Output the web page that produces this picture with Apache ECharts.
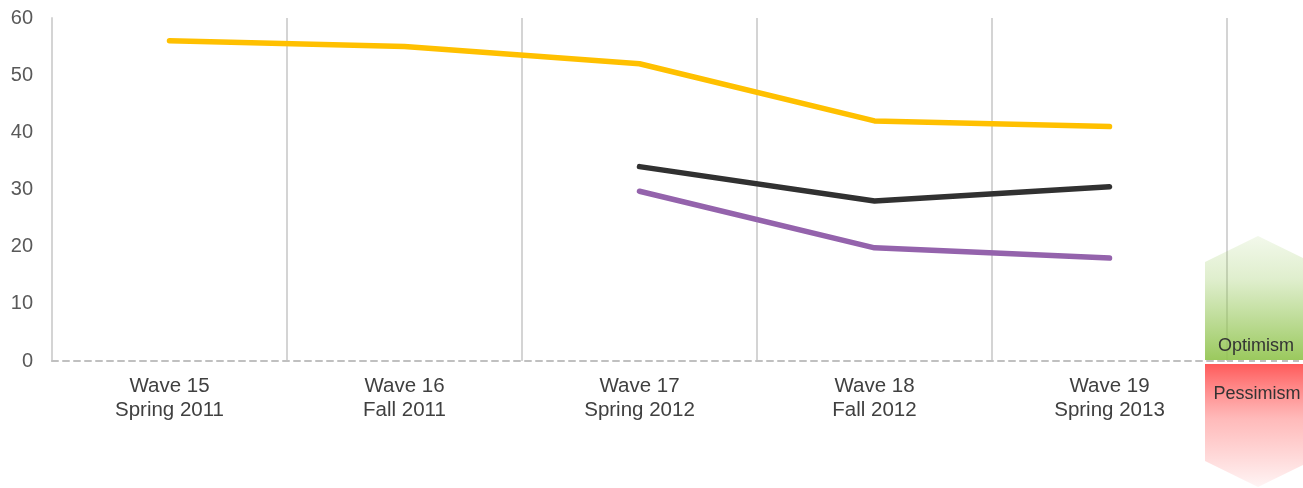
<!DOCTYPE html>
<html>
<head>
<meta charset="utf-8">
<script src="https://cdn.jsdelivr.net/npm/echarts@6/dist/echarts.min.js"></script>
<style>
  html, body { margin: 0; padding: 0; background: #ffffff; }
  #chart { width: 1303px; height: 488px; }
</style>
</head>
<body>
<div id="chart"></div>
<script>
// Survey waves on the x axis
const waves = [
  'Wave 15\nSpring 2011',
  'Wave 16\nFall 2011',
  'Wave 17\nSpring 2012',
  'Wave 18\nFall 2012',
  'Wave 19\nSpring 2013'
];

// Net scores per wave (null = not asked in that wave)
const seriesYellow = [56, 55, 52, 42, 41];
const seriesBlack  = [null, null, 34, 28, 30.5];
const seriesPurple = [null, null, 29.7, 19.8, 18];

const yTicks = { min: 0, max: 60, interval: 10 };

const FONT = '"Liberation Sans", Arial, sans-serif';

const chart = echarts.init(document.getElementById('chart'), null, { renderer: 'canvas' });

function lineSeries(name, data, color) {
  return {
    name: name,
    type: 'line',
    data: data,
    symbol: 'none',
    connectNulls: false,
    lineStyle: { color: color, width: 5.5, cap: 'round', join: 'round' },
    itemStyle: { color: color },
    z: 5
  };
}

chart.setOption({
  animation: false,
  backgroundColor: '#ffffff',
  grid: { left: 52, right: 76, top: 18, bottom: 127, containLabel: false },
  xAxis: {
    type: 'category',
    data: waves,
    boundaryGap: true,
    axisLine: { show: true, lineStyle: { color: '#c0c0c0', width: 2, type: [6, 5] } },
    axisTick: { show: false },
    axisLabel: {
      color: '#404040', fontFamily: FONT, fontSize: 20.5, lineHeight: 24, margin: 13
    },
    splitLine: { show: true, lineStyle: { color: '#d4d4d4', width: 2 } }
  },
  yAxis: {
    type: 'value',
    min: yTicks.min, max: yTicks.max, interval: yTicks.interval,
    axisLine: { show: true, lineStyle: { color: '#d4d4d4', width: 2 } },
    axisTick: { show: false },
    axisLabel: { color: '#595959', fontFamily: FONT, fontSize: 20, margin: 19 },
    splitLine: { show: false }
  },
  series: [
    lineSeries('Yellow', seriesYellow, '#FFC000'),
    lineSeries('Black', seriesBlack, '#313131'),
    lineSeries('Purple', seriesPurple, '#9463AC')
  ]
});

// Optimism / Pessimism badges at the right of the plot, split at zero
function drawBadges() {
  const W = chart.getWidth();
  const H = chart.getHeight();
  const zeroY = chart.convertToPixel({ yAxisIndex: 0 }, 0);
  const left = 1205, right = 1311, mid = (left + right) / 2;
  const shoulder = 26;
  const topPeak = zeroY - 125;
  const pessTop = zeroY + 3;
  const pessBottom = H - 1;

  chart.setOption({
    graphic: [
      {
        type: 'polygon', z: 1, silent: true,
        shape: { points: [
          [left, zeroY - 1], [left, topPeak + shoulder], [mid, topPeak],
          [right, topPeak + shoulder], [right, zeroY - 1]
        ] },
        style: {
          fill: new echarts.graphic.LinearGradient(0, 0, 0, 1, [
            { offset: 0, color: 'rgba(150,200,90,0.12)' },
            { offset: 0.35, color: 'rgba(150,200,90,0.30)' },
            { offset: 1, color: 'rgba(146,196,80,0.92)' }
          ])
        }
      },
      {
        type: 'polygon', z: 1, silent: true,
        shape: { points: [
          [left, pessTop], [right, pessTop], [right, pessBottom - shoulder],
          [mid, pessBottom], [left, pessBottom - shoulder]
        ] },
        style: {
          fill: new echarts.graphic.LinearGradient(0, 0, 0, 1, [
            { offset: 0, color: 'rgba(255,90,90,1)' },
            { offset: 0.45, color: 'rgba(255,130,130,0.55)' },
            { offset: 1, color: 'rgba(255,120,120,0.08)' }
          ])
        }
      },
      {
        type: 'line', z: 2, silent: true,
        shape: { x1: 1227, y1: zeroY, x2: W, y2: zeroY },
        style: { stroke: '#c0c0c0', lineWidth: 2, lineDash: [6, 5] }
      },
      {
        type: 'text', z: 3, silent: true,
        x: 1256, y: zeroY - 15,
        style: { text: 'Optimism', fill: '#333333', font: '18px ' + FONT, align: 'center', verticalAlign: 'middle' }
      },
      {
        type: 'text', z: 3, silent: true,
        x: 1257, y: zeroY + 33,
        style: { text: 'Pessimism', fill: '#333333', font: '18px ' + FONT, align: 'center', verticalAlign: 'middle' }
      }
    ]
  });
}
drawBadges();
</script>
</body>
</html>
